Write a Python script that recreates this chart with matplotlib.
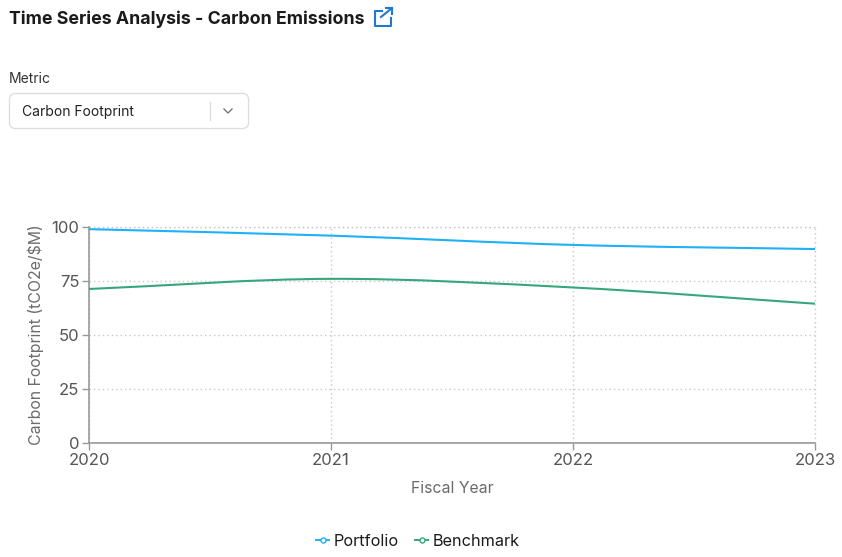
import numpy as np
import matplotlib
matplotlib.use("Agg")
import matplotlib.pyplot as plt
from matplotlib.lines import Line2D
from matplotlib.patches import FancyBboxPatch, PathPatch
from matplotlib.path import Path

plt.rcParams['font.family'] = ['Inter', 'DejaVu Sans']

years = [2020, 2021, 2022, 2023]
portfolio = [99.0, 96.0, 91.7, 89.8]
benchmark = [71.3, 76.0, 72.0, 64.5]
y_ticks = [0, 25, 50, 75, 100]

BLUE = "#1fb1f5"
GREEN = "#35a77c"
GRID = "#c8c8c8"
DOTS = (0, (1, 2.2))
W, H = 842, 557


def smooth_path(x, y):
    # chart library style curve: cubic segments through the points
    x = np.array(x, dtype=float)
    y = np.array(y, dtype=float)
    slopes = np.gradient(y, x)
    verts = [(x[0], y[0])]
    codes = [Path.MOVETO]
    for i in range(len(x) - 1):
        d = (x[i + 1] - x[i]) / 3
        verts += [(x[i] + d, y[i] + slopes[i] * d),
                  (x[i + 1] - d, y[i + 1] - slopes[i + 1] * d),
                  (x[i + 1], y[i + 1])]
        codes += [Path.CURVE4] * 3
    return Path(verts, codes)


fig = plt.figure(figsize=(W / 100, H / 100), dpi=100)

# chart area, placed in pixels
left, right, top, bottom = 89, 815, 227, 443
ax = fig.add_axes([left / W, 1 - bottom / H, (right - left) / W, (bottom - top) / H])
ax.set_xlim(2020, 2023)
ax.set_ylim(0, 100)
ax.set_xticks(years)
ax.set_yticks(y_ticks)
ax.grid(color=GRID, linestyle=DOTS, linewidth=1.0)
ax.set_axisbelow(True)
for side in ["top", "right"]:
    ax.spines[side].set_visible(False)
# dotted frame on top and right
ax.axhline(100, color=GRID, linestyle=DOTS, linewidth=1.0, clip_on=False, zorder=1)
ax.axvline(2023, color=GRID, linestyle=DOTS, linewidth=1.0, clip_on=False, zorder=1)
for side in ["left", "bottom"]:
    ax.spines[side].set_color("#999999")
    ax.spines[side].set_linewidth(1.2)
ax.tick_params(axis="both", colors="#999999", labelcolor="#555555", labelsize=12, length=5, width=1, pad=2)
ax.set_xlabel("Fiscal Year", fontsize=11.4, color="#6b6b6b", labelpad=9.5)
ax.set_ylabel("Carbon Footprint (tCO2e/$M)", fontsize=11.4, color="#6b6b6b", labelpad=5)

ax.add_patch(PathPatch(smooth_path(years, portfolio), fill=False, edgecolor=BLUE, linewidth=1.5, zorder=3))
ax.add_patch(PathPatch(smooth_path(years, benchmark), fill=False, edgecolor=GREEN, linewidth=1.5, zorder=3))

# page elements, overlay in pixel coordinates
ui = fig.add_axes([0, 0, 1, 1], zorder=5)
ui.set_xlim(0, W)
ui.set_ylim(H, 0)
ui.axis("off")
ui.patch.set_alpha(0)

ui.text(9, 19.5, "Time Series Analysis - Carbon Emissions", fontsize=12.78, fontweight="bold",
        color="#1a1a1a", va="center")

# external link icon
icon = "#1f78d1"
ui.plot([382, 375, 375, 391, 391], [11, 11, 26, 26, 18], color=icon, lw=1.5)
ui.plot([381, 392], [17, 8], color=icon, lw=1.5)
ui.plot([386, 392, 392], [8, 8, 14], color=icon, lw=1.5)

ui.text(9, 78.7, "Metric", fontsize=10, color="#333333", va="center")
ui.add_patch(FancyBboxPatch((9.5, 93.5), 239, 35, boxstyle="round,pad=0,rounding_size=6",
                            facecolor="white", edgecolor="#dcdcdc", linewidth=0.9))
ui.text(22, 111.7, "Carbon Footprint", fontsize=10, color="#222222", va="center")
ui.plot([209.5, 209.5], [102, 120], color="#d8d8d8", lw=0.9)
ui.plot([224, 228, 232], [109, 113, 109], color="#777777", lw=1.0)

# legend
handles = [Line2D([], [], color=BLUE, lw=1.4, marker="o", ms=3.6, mfc="white", mew=1.0),
           Line2D([], [], color=GREEN, lw=1.4, marker="o", ms=3.6, mfc="white", mew=1.0)]
fig.legend(handles, ["Portfolio", "Benchmark"], loc="center", bbox_to_anchor=(418 / W, 1 - 541 / H),
           ncol=2, frameon=False, fontsize=11.7, handlelength=0.78, handletextpad=0.3,
           columnspacing=1.0, labelcolor="#1a1a1a")

fig.savefig("out.png", dpi=100)
